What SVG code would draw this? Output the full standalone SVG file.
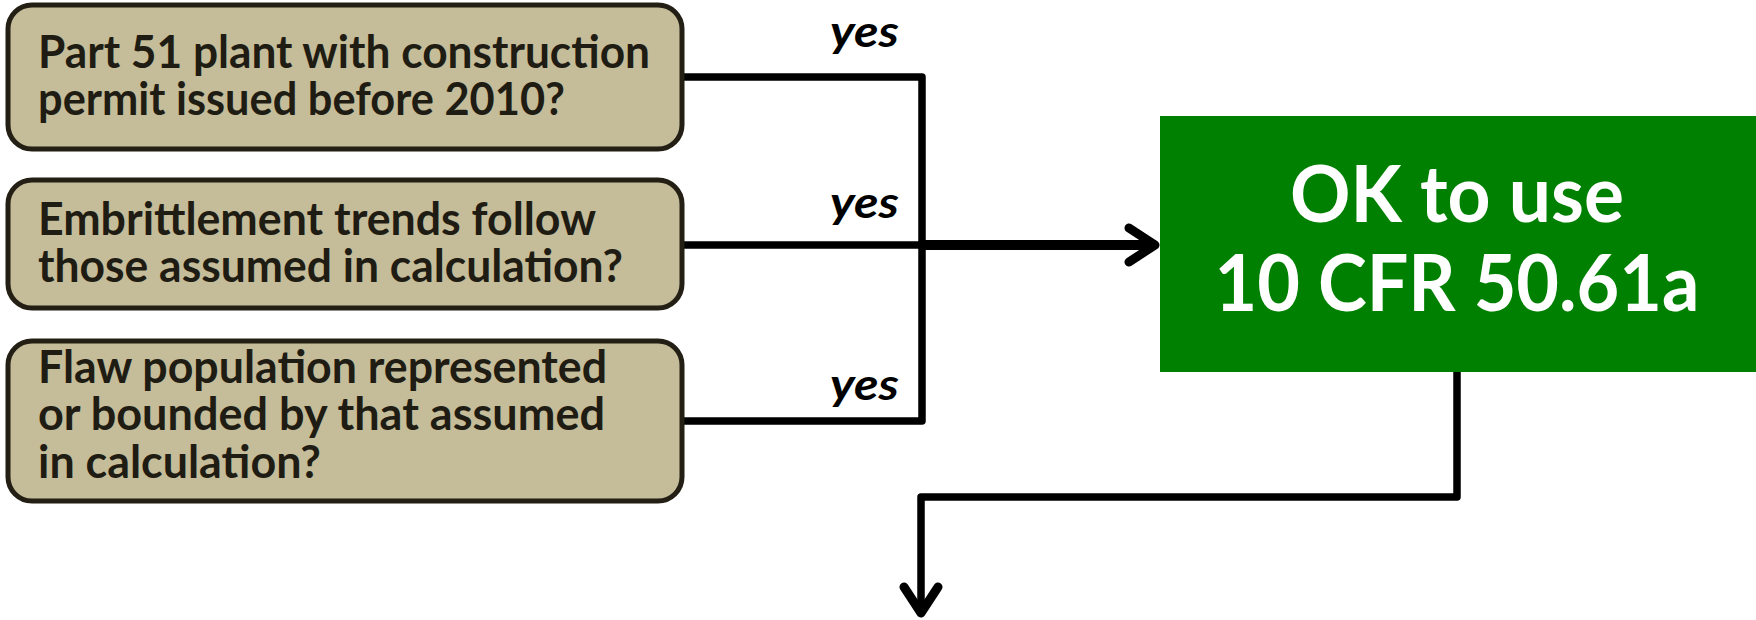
<svg xmlns="http://www.w3.org/2000/svg" width="1756" height="620" viewBox="0 0 1756 620">
  <style>
    .q rect { fill: #c5bd99; stroke: #231f14; stroke-width: 5; }
    .q text { font-family: Lato, "Open Sans", sans-serif; font-weight: 700; font-size: 46px; fill: #1f1c13; }
    .yes { font-family: Lato, "Open Sans", sans-serif; font-weight: 700; font-style: italic; font-size: 44px; fill: #000; text-anchor: end; }
    .ok rect { fill: #008000; }
    .ok text { font-family: Lato, "Open Sans", sans-serif; font-weight: 700; font-size: 79px; fill: #fff; text-anchor: middle; }
    .wire { fill: none; stroke: #000; stroke-width: 7.5; stroke-linejoin: round; }
    .wire.main { stroke-width: 10; }
  </style>
  <defs>
    <marker id="chev" viewBox="0 0 36 44" refX="32" refY="22" markerWidth="36" markerHeight="44" markerUnits="userSpaceOnUse" orient="auto">
      <path d="M5,5 L31,22 L5,39" fill="none" stroke="#000" stroke-width="9" stroke-linecap="round" stroke-linejoin="round"/>
    </marker>
  </defs>

  <!-- connectors -->
  <g id="connectors">
    <path class="wire" d="M683,77 H922 V421 H683"/>
    <path class="wire" d="M683,245 H924"/>
    <path class="wire main" d="M920,245 H1156" marker-end="url(#chev)"/>
    <path class="wire" d="M1457,372 V497 H921 V614" marker-end="url(#chev)"/>
    <text class="yes" x="899" y="47" textLength="69" lengthAdjust="spacingAndGlyphs">yes</text>
    <text class="yes" x="899" y="218" textLength="69" lengthAdjust="spacingAndGlyphs">yes</text>
    <text class="yes" x="899" y="400" textLength="69" lengthAdjust="spacingAndGlyphs">yes</text>
  </g>

  <!-- question boxes -->
  <g id="q1" class="q">
    <rect x="8" y="5" width="674" height="144" rx="24"/>
    <text x="38" y="68" textLength="612" lengthAdjust="spacingAndGlyphs">Part 51 plant with construction</text>
    <text x="38" y="115" textLength="527" lengthAdjust="spacingAndGlyphs">permit issued before 2010?</text>
  </g>
  <g id="q2" class="q">
    <rect x="8" y="180" width="674" height="128" rx="24"/>
    <text x="38" y="235" textLength="558" lengthAdjust="spacingAndGlyphs">Embrittlement trends follow</text>
    <text x="38" y="282" textLength="585" lengthAdjust="spacingAndGlyphs">those assumed in calculation?</text>
  </g>
  <g id="q3" class="q">
    <rect x="8" y="341" width="674" height="160" rx="24"/>
    <text x="38" y="383" textLength="569" lengthAdjust="spacingAndGlyphs">Flaw population represented</text>
    <text x="38" y="430" textLength="567" lengthAdjust="spacingAndGlyphs">or bounded by that assumed</text>
    <text x="38" y="478" textLength="283" lengthAdjust="spacingAndGlyphs">in calculation?</text>
  </g>

  <!-- result box -->
  <g id="ok" class="ok">
    <rect x="1160" y="116" width="596" height="256"/>
    <text x="1457" y="222" textLength="334" lengthAdjust="spacingAndGlyphs">OK to use</text>
    <text x="1457" y="311" textLength="485" lengthAdjust="spacingAndGlyphs">10 CFR 50.61a</text>
  </g>
</svg>
